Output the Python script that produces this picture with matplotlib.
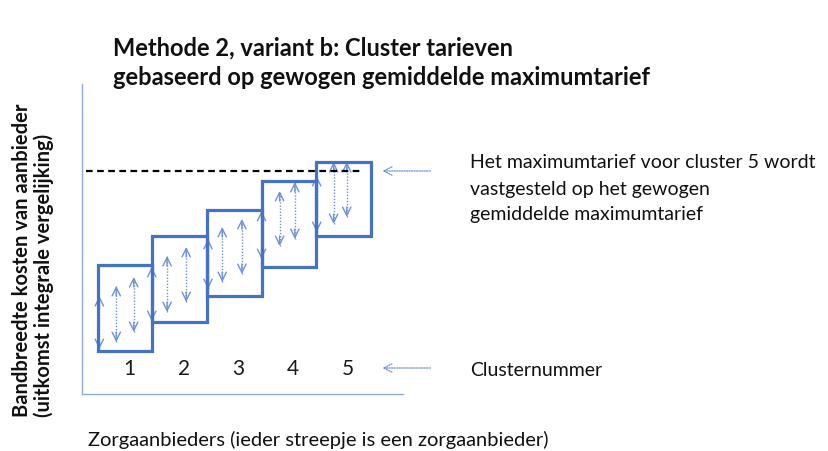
import matplotlib
matplotlib.use("Agg")
import matplotlib.pyplot as plt
from matplotlib.patches import Rectangle

plt.rcParams['font.family'] = ['Lato', 'DejaVu Sans']

# clusters (boxes) in schematic cost units
clusters = [1, 2, 3, 4, 5]
box_low = [4.3, 7.2, 9.8, 12.7, 15.8]
box_high = [12.9, 15.8, 18.4, 21.3, 23.2]

# individual providers: bandwidth of costs (double arrows)
arrow_x = [0.53, 0.84, 1.16, 1.49, 1.77, 2.12, 2.52, 2.78, 3.14, 3.5, 3.83, 4.11, 4.51, 4.82, 5.06]
arrow_low = [4.5, 5.2, 6.2, 7.3, 8.2, 9.2, 10.5, 11.2, 12.0, 13.5, 14.8, 15.5, 16.2, 17.0, 17.7]
arrow_high = [9.8, 10.8, 11.7, 12.7, 13.8, 14.7, 15.5, 16.7, 17.5, 18.3, 20.3, 21.2, 21.8, 23.2, 23.2]

max_tariff = 22.3          # gewogen gemiddelde maximumtarief
label_level = 2.6          # hoogte van clusternummers

box_col = '#4472c4'
arr_col = '#6f90d8'
axis_col = '#8eaadb'

fig = plt.figure(figsize=(8.29, 4.52), dpi=100)
ax = fig.add_axes([82/829, 57/452, 321/829, 310/452])
ax.set_xlim(0.2125, 6.09)
ax.set_ylim(0, 31)
for s in ['top', 'right']:
    ax.spines[s].set_visible(False)
for s in ['left', 'bottom']:
    ax.spines[s].set_color(axis_col)
    ax.spines[s].set_linewidth(1.0)
ax.set_xticks([])
ax.set_yticks([])

# provider arrows
ax.vlines(arrow_x, arrow_low, arrow_high, colors=arr_col, linestyles=(0, (1, 1.2)), lw=1.0)
hs = '->,head_length=0.6,head_width=0.3'
for x, lo, hi in zip(arrow_x, arrow_low, arrow_high):
    ax.annotate('', xy=(x, hi), xytext=(x, hi - 1.0),
                arrowprops=dict(arrowstyle=hs, color=arr_col, lw=1.0, shrinkA=0, shrinkB=0))
    ax.annotate('', xy=(x, lo), xytext=(x, lo + 1.0),
                arrowprops=dict(arrowstyle=hs, color=arr_col, lw=1.0, shrinkA=0, shrinkB=0))

# cluster boxes
for c, lo, hi in zip(clusters, box_low, box_high):
    ax.add_patch(Rectangle((c - 0.5, lo), 1.0, hi - lo, fill=False,
                           edgecolor=box_col, lw=2.3, zorder=3))
    ax.text(c + 0.08, label_level, str(c), ha='center', va='center',
            fontsize=15, color='#1a1a1a')

# weighted average max tariff
ax.plot([0.29, 5.3], [max_tariff, max_tariff], color='black', lw=1.6,
        linestyle=(0, (3, 2)), zorder=4)

# pointer arrows to the annotations
for yv in [max_tariff, label_level]:
    ax.annotate('', xy=(5.71, yv), xytext=(6.59, yv), annotation_clip=False,
                arrowprops=dict(arrowstyle='->,head_length=0.6,head_width=0.3',
                                color=arr_col, lw=0.9, linestyle=(0, (1, 1)),
                                shrinkA=0, shrinkB=0))

fig.text(113/829, 1 - 48/452, 'Methode 2, variant b: Cluster tarieven',
         fontsize=17, fontweight='bold', ha='left', va='center', color='#111111')
fig.text(113/829, 1 - 78/452, 'gebaseerd op gewogen gemiddelde maximumtarief',
         fontsize=17, fontweight='bold', ha='left', va='center', color='#111111')

for i, line in enumerate(['Het maximumtarief voor cluster 5 wordt',
                          'vastgesteld op het gewogen',
                          'gemiddelde maximumtarief']):
    fig.text(470/829, 1 - (163 + 26*i)/452, line, fontsize=14,
             ha='left', va='center', color='#111111')
fig.text(470/829, 1 - 370/452, 'Clusternummer', fontsize=14,
         ha='left', va='center', color='#111111')

fig.text(22/829, 1 - 260/452, 'Bandbreedte kosten van aanbieder', rotation=90,
         fontsize=14.5, fontweight='bold', ha='center', va='center', color='#111111')
fig.text(44/829, 1 - 275/452, '(uitkomst integrale vergelijking)', rotation=90,
         fontsize=14.5, fontweight='bold', ha='center', va='center', color='#111111')

fig.text(88/829, 1 - 440/452, 'Zorgaanbieders (ieder streepje is een zorgaanbieder)',
         fontsize=14.5, ha='left', va='center', color='#111111')

fig.savefig('out.png', dpi=100)
